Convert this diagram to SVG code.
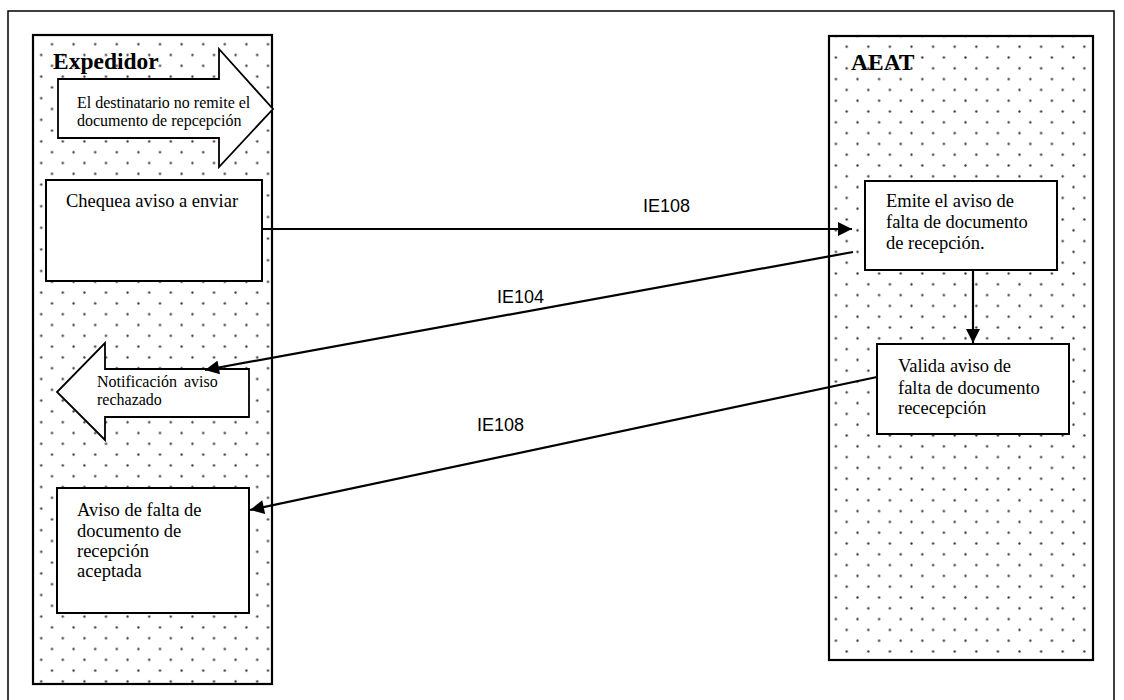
<svg xmlns="http://www.w3.org/2000/svg" width="1124" height="700" viewBox="0 0 1124 700">
<style>
.t{font-family:"Liberation Serif","Times New Roman",serif;font-size:18.5px;fill:#000}
.s{font-family:"Liberation Serif","Times New Roman",serif;font-size:16px;fill:#000}
.h{font-family:"Liberation Serif","Times New Roman",serif;font-size:23.5px;font-weight:bold;fill:#000}
.l{font-family:"Liberation Sans",Arial,sans-serif;font-size:18px;fill:#000}
.box{fill:#fff;stroke:#000;stroke-width:2}
.lane{stroke:#000;stroke-width:2.2}
.c{fill:none;stroke:#000;stroke-width:2.2}
</style>
<defs>
<pattern id="dotsL" patternUnits="userSpaceOnUse" x="46.6" y="643.6" width="21.6" height="21.6">
<circle cx="5.4" cy="5.4" r="1.15" fill="#333"/>
<circle cx="16.2" cy="16.2" r="1.15" fill="#333"/>
</pattern>
<pattern id="dotsR" patternUnits="userSpaceOnUse" x="841.3" y="41.3" width="21.6" height="21.6">
<circle cx="5.4" cy="5.4" r="1.15" fill="#333"/>
<circle cx="16.2" cy="16.2" r="1.15" fill="#333"/>
</pattern>
<marker id="ah" viewBox="0 0 10 10" refX="10" refY="5" markerWidth="15" markerHeight="14" markerUnits="userSpaceOnUse" orient="auto">
<path d="M0,0 L10,5 L0,10 z" fill="#000"/>
</marker>
</defs>
<rect x="8" y="11" width="1106" height="700" fill="#fff" stroke="#000" stroke-width="1.5"/>
<g id="lane-expedidor">
<rect x="33" y="35" width="239" height="649" fill="url(#dotsL)" class="lane"/>
<text class="h" x="53" y="69">Expedidor</text>
</g>
<g id="lane-aeat">
<rect x="829" y="36" width="264" height="624" fill="url(#dotsR)" class="lane"/>
<text class="h" x="851" y="70">AEAT</text>
</g>
<g id="n-destinatario">
<polygon points="58,79 219,79 219,49 273,109 219,167 219,138 58,138" fill="#fff" stroke="#000" stroke-width="1.8"/>
<text class="s" x="77" y="108">El destinatario no remite el</text>
<text class="s" x="77" y="126">documento de repcepción</text>
</g>
<g id="n-chequea">
<rect class="box" x="46" y="180" width="216" height="101"/>
<text class="t" x="66" y="207">Chequea aviso a enviar</text>
</g>
<g id="n-notificacion">
<polygon points="249,369 105,369 105,343 57,392 105,440 105,417 249,417" fill="#fff" stroke="#000" stroke-width="1.8"/>
<text class="s" x="97" y="387">Notificación</text>
<text class="s" x="184" y="387">aviso</text>
<text class="s" x="97" y="405">rechazado</text>
</g>
<g id="n-aceptada">
<rect class="box" x="57" y="488" width="192" height="125"/>
<text class="t" x="77" y="516">Aviso de falta de</text>
<text class="t" x="77" y="537">documento de</text>
<text class="t" x="77" y="557">recepción</text>
<text class="t" x="77" y="577">aceptada</text>
</g>
<g id="n-emite">
<rect class="box" x="865" y="181" width="192" height="89"/>
<text class="t" x="886" y="207">Emite el aviso de</text>
<text class="t" x="886" y="228">falta de documento</text>
<text class="t" x="886" y="249">de recepción.</text>
</g>
<g id="n-valida">
<rect class="box" x="877" y="344" width="192" height="90"/>
<text class="t" x="898" y="372">Valida aviso de</text>
<text class="t" x="898" y="394">falta de documento</text>
<text class="t" x="898" y="414">rececepción</text>
</g>
<g id="connectors">
<line class="c" x1="262" y1="229" x2="852" y2="229" marker-end="url(#ah)"/>
<line class="c" x1="853" y1="252" x2="205" y2="370" marker-end="url(#ah)"/>
<line class="c" x1="973" y1="270" x2="973" y2="343" marker-end="url(#ah)"/>
<line class="c" x1="877" y1="377" x2="250" y2="510" marker-end="url(#ah)"/>
<text class="l" x="643" y="212">IE108</text>
<text class="l" x="497" y="303">IE104</text>
<text class="l" x="477" y="431">IE108</text>
</g>
</svg>
